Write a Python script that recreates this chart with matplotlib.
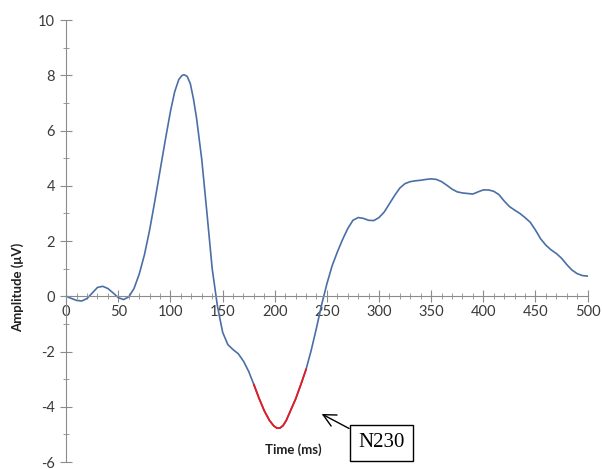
import matplotlib.pyplot as plt
import numpy as np

plt.rcParams['axes.unicode_minus'] = False

# ERP waveform (time in ms, amplitude in uV)
time_ms = [0, 5, 10, 15, 20, 25, 30, 35, 40, 45, 50, 55, 60, 65, 70, 75, 80, 85, 90, 95,
           100, 104, 108, 111, 113, 116, 119, 122, 125, 130, 135, 140, 145, 150, 155, 160,
           165, 170, 175, 180, 185, 190, 195, 199, 202, 205, 208, 211, 215, 220, 225, 230,
           235, 240, 245, 250, 255, 260, 265, 270, 275, 280, 285, 290, 295, 300, 305, 310,
           315, 320, 325, 330, 335, 340, 345, 350, 355, 360, 365, 370, 375, 380, 385, 390,
           395, 400, 405, 410, 415, 420, 425, 430, 435, 440, 445, 450, 455, 460, 465, 470,
           475, 480, 485, 490, 495, 500]
amplitude = [0.0, -0.08, -0.15, -0.17, -0.08, 0.12, 0.32, 0.36, 0.28, 0.12, -0.05, -0.12,
             -0.02, 0.28, 0.8, 1.5, 2.4, 3.45, 4.55, 5.65, 6.7, 7.4, 7.85, 7.99, 8.02, 7.96,
             7.7, 7.15, 6.45, 4.95, 3.0, 1.0, -0.35, -1.3, -1.75, -1.93, -2.08, -2.35, -2.72,
             -3.2, -3.7, -4.15, -4.5, -4.69, -4.77, -4.77, -4.68, -4.5, -4.15, -3.72, -3.2,
             -2.65, -1.95, -1.15, -0.3, 0.45, 1.1, 1.6, 2.05, 2.45, 2.75, 2.85, 2.82, 2.75,
             2.74, 2.85, 3.05, 3.35, 3.65, 3.92, 4.08, 4.15, 4.18, 4.2, 4.23, 4.25, 4.23, 4.15,
             4.02, 3.88, 3.78, 3.74, 3.72, 3.7, 3.78, 3.85, 3.85, 3.8, 3.68, 3.45, 3.25, 3.12,
             3.0, 2.85, 2.68, 2.4, 2.08, 1.85, 1.68, 1.55, 1.38, 1.15, 0.95, 0.82, 0.75, 0.73]

# N230 window highlighted in red
n230_window = (180, 230)

t = np.array(time_ms)
a = np.array(amplitude)
mask = (t >= n230_window[0]) & (t <= n230_window[1])

fig = plt.figure(figsize=(6.02, 4.69), dpi=100)
ax = fig.add_axes([0.110, 0.0149, 0.866, 0.9424])

ax.plot(t, a, color='#4a6fa5', lw=1.2, solid_joinstyle='round')
ax.plot(t[mask], a[mask], color='#e8191f', lw=1.3, solid_joinstyle='round')

ax.set_xlim(0, 500)
ax.set_ylim(-6, 10)

# axis styling like the spreadsheet chart
axis_col = '#8c8c8c'
for s in ['top', 'right']:
    ax.spines[s].set_visible(False)
ax.spines['left'].set_position(('data', 0))
ax.spines['bottom'].set_position(('data', 0))
ax.spines['left'].set_color(axis_col)
ax.spines['bottom'].set_color(axis_col)

ax.set_xticks(range(0, 501, 50))
ax.set_xticks(range(0, 501, 10), minor=True)
ax.set_yticks(range(-6, 11, 2))
ax.set_yticks(range(-6, 11, 1), minor=True)

ax.tick_params(which='major', direction='inout', length=8, color=axis_col,
               labelsize=10.5, labelcolor='#3a3a3a')
ax.tick_params(which='minor', direction='inout', length=5, color=axis_col)
ax.tick_params(axis='x', which='major', pad=2)
ax.tick_params(axis='y', which='major', pad=4)
for lab in ax.get_xticklabels() + ax.get_yticklabels():
    lab.set_fontfamily('Lato')

ax.text(-0.0926, 0.394, 'Amplitude (\u03bcV)', transform=ax.transAxes, rotation=90,
        ha='center', va='center', fontsize=9.5, fontweight='bold', family='Lato',
        color='#202020')
ax.text(217.5, -5.54, 'Time (ms)', ha='center', va='center', fontsize=9.5,
        fontweight='bold', family='Lato', color='#202020')

ax.annotate('N230', xy=(245, -4.26), xytext=(302, -5.3), ha='center', va='center',
            fontsize=15, family='Liberation Serif',
            bbox=dict(boxstyle='square,pad=0.4', fc='white', ec='black', lw=1),
            arrowprops=dict(arrowstyle='->,head_length=0.6,head_width=0.3', color='black',
                            lw=1, relpos=(0, 1), shrinkA=0, shrinkB=0))

plt.savefig('out.png', dpi=100)
